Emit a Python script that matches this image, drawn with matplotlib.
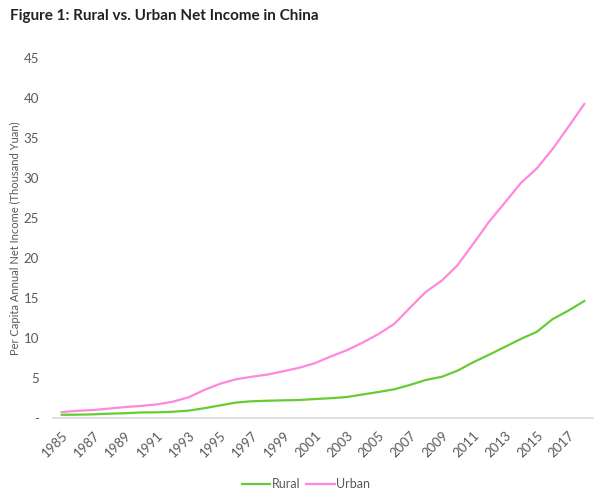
import matplotlib
matplotlib.use("Agg")
import matplotlib.pyplot as plt

plt.rcParams['font.family'] = ['Lato', 'DejaVu Sans']

years = list(range(1985, 2019))
rural = [0.40, 0.42, 0.46, 0.54, 0.60, 0.69, 0.71, 0.78, 0.92, 1.22,
         1.58, 1.93, 2.09, 2.16, 2.21, 2.25, 2.37, 2.48, 2.62, 2.94,
         3.25, 3.59, 4.14, 4.76, 5.15, 5.92, 6.98, 7.92, 8.90, 9.89,
         10.77, 12.36, 13.43, 14.62]
urban = [0.74, 0.90, 1.00, 1.18, 1.37, 1.51, 1.70, 2.03, 2.58, 3.50,
         4.28, 4.84, 5.16, 5.43, 5.85, 6.28, 6.86, 7.70, 8.47, 9.42,
         10.49, 11.76, 13.79, 15.78, 17.17, 19.11, 21.81, 24.56, 26.96, 29.38,
         31.19, 33.62, 36.40, 39.25]
yticks = [0, 5, 10, 15, 20, 25, 30, 35, 40, 45]
ytick_labels = ['-', '5', '10', '15', '20', '25', '30', '35', '40', '45']

grey = '#595959'

fig = plt.figure(figsize=(6, 4.99), dpi=100)
ax = fig.add_axes([0.0883, 0.1623, 0.9, 0.7215])

ax.plot(years, rural, color='#66cc33', lw=1.6, label='Rural')
ax.plot(years, urban, color='#ff88dd', lw=1.6, label='Urban')

ax.set_xlim(1984.45, 2018.55)
ax.set_ylim(0, 45)
ax.set_yticks(yticks)
ax.set_yticklabels(ytick_labels)
ax.set_xticks(years[::2])
ax.set_xticklabels([str(y) for y in years[::2]], rotation=45, ha='right',
                   rotation_mode='anchor')
ax.tick_params(axis='x', length=0, pad=8, labelsize=9.5, labelcolor=grey)
ax.tick_params(axis='y', length=0, pad=10, labelsize=9.5, labelcolor=grey)

for s in ['top', 'right', 'left']:
    ax.spines[s].set_visible(False)
ax.spines['bottom'].set_color('#d9d9d9')
ax.spines['bottom'].set_linewidth(1.2)

ax.set_ylabel('Per Capita Annual Net Income (Thousand Yuan)', fontsize=8,
              color=grey, labelpad=2)

fig.text(0.017, 0.968, 'Figure 1: Rural vs. Urban Net Income in China',
         fontsize=11, fontweight='bold', color='#222222', va='center')

fig.legend(loc='center', bbox_to_anchor=(0.51, 0.03), ncol=2, frameon=False,
           fontsize=9, handlelength=2.3, handletextpad=0.1, columnspacing=0.5,
           labelcolor=grey)

fig.savefig('out.png', dpi=100)
